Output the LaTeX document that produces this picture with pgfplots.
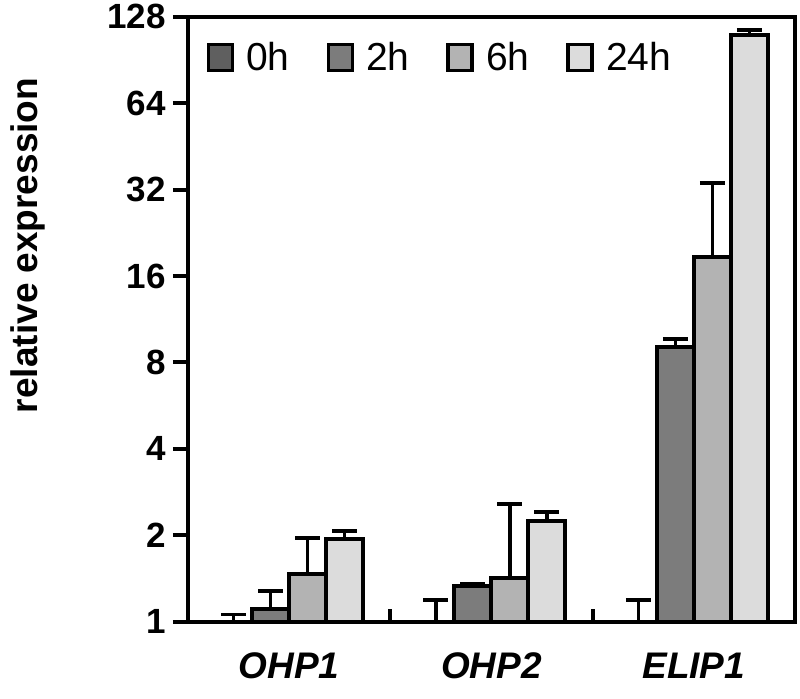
\documentclass[border=0pt]{standalone}
\usepackage{fontspec}
\setmainfont{Liberation Sans}
\usepackage{pgfplots}
\usepackage{pgfplotstable}
\pgfplotsset{compat=1.18}
\definecolor{cZero}{HTML}{5F5F5F}
\definecolor{cTwo}{HTML}{7C7C7C}
\definecolor{cSix}{HTML}{B3B3B3}
\definecolor{cDay}{HTML}{DCDCDC}

% group, mean and upper error for each time point
\pgfplotstableread{
x  h0  e0    h2     e2    h6    e6    h24    e24
0  1   0.06  1.11   0.17  1.47  0.49  1.94   0.13
1  1   0.19  1.335  0.02  1.42  1.15  2.24   0.17
2  1   0.19  9.07   0.58  18.6  15.2  110.5  4.5
}\expr

\begin{document}
\begin{tikzpicture}
\useasboundingbox (-94pt,-38.65pt) rectangle (306pt,310.85pt);
\begin{axis}[
  at={(0,0)}, anchor=south west,
  scale only axis,
  width=303.5pt, height=302.5pt,
  ymode=log, log basis y=2,
  ymin=1, ymax=128,
  xmin=-0.5, xmax=2.5,
  ybar=0pt, bar width=18.5pt,
  axis line style={line width=2pt},
  every tick/.style={black, line width=2pt},
  tick align=outside,
  major tick length=7.5pt,
  ytick={1,2,4,8,16,32,64,128},
  yticklabels={1,2,4,8,16,32,64,128},
  ytick pos=left,
  yticklabel style={font=\fontsize{17.5}{17.5}\selectfont\bfseries},
  xtick={0,1,2},
  xticklabels={OHP1,OHP2,ELIP1},
  xtick pos=bottom,
  xtick style={draw=none},
  xticklabel style={font=\fontsize{18.5}{18.5}\selectfont\bfseries\itshape, yshift=-4.5pt},
  extra x ticks={0.5,1.5},
  extra x tick labels={},
  extra x tick style={tick align=inside, major tick length=6.5pt, xtick style={draw=black}},
  ylabel={relative expression},
  ylabel style={font=\fontsize{18.5}{18.5}\selectfont\bfseries, at={(axis description cs:-0.264,0.622)}, anchor=center},
  legend columns=-1,
  legend style={draw=none, fill=none, at={(0.02,0.972)}, anchor=north west,
    font=\fontsize{19.5}{19.5}\selectfont,
    /tikz/every odd column/.append style={column sep=4pt},
    /tikz/every even column/.append style={column sep=16.5pt}},
  legend image code/.code={\draw[#1, line width=1.8pt] (0pt,-6.5pt) rectangle (12pt,6.5pt);},
  error bars/y dir=plus,
  error bars/y explicit,
  error bars/error bar style={line width=1.8pt, black},
  error bars/error mark options={rotate=90, mark size=6.25pt, line width=1.8pt, black},
]
\addplot[fill=cZero, draw=black, line width=2pt] table[x=x, y=h0, y error=e0] {\expr};
\addplot[fill=cTwo, draw=black, line width=2pt] table[x=x, y=h2, y error=e2] {\expr};
\addplot[fill=cSix, draw=black, line width=2pt] table[x=x, y=h6, y error=e6] {\expr};
\addplot[fill=cDay, draw=black, line width=2pt] table[x=x, y=h24, y error=e24] {\expr};
\legend{0h,2h,6h,24h}
\end{axis}
\end{tikzpicture}
\end{document}
